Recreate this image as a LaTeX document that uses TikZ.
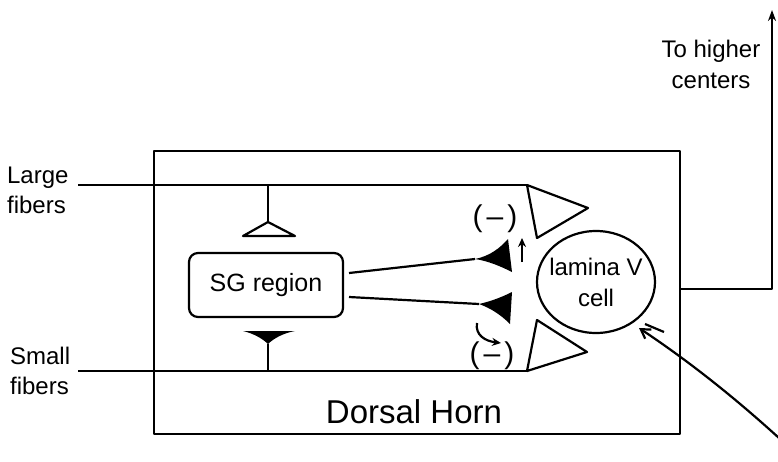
\documentclass[tikz,border=0pt]{standalone}
\usepackage{fontspec}
\setmainfont{Liberation Sans}
\usetikzlibrary{shapes.geometric,arrows.meta}
\begin{document}
\begin{tikzpicture}[x=1pt,y=-1pt, line width=2.2pt, line join=round,
  lbl/.style={font=\fontsize{24}{30}\selectfont, align=left, inner sep=0pt, anchor=west},
  term/.style={draw, fill=white},
  inh/.style={font=\fontsize{30}{30}\selectfont, inner sep=0pt},
  tip/.style={-{Stealth[length=9pt,width=8pt]}}]
\useasboundingbox (0,0) rectangle (778,461);

% main boxes
\node[draw, minimum width=526pt, minimum height=283pt, inner sep=0pt] (dh) at (417,292.5) {};
\node[font=\fontsize{33}{36}\selectfont, inner sep=0pt] (dhl) at (414,412) {Dorsal Horn};
\node[draw, rounded corners=9pt, minimum width=154pt, minimum height=64pt, inner sep=0pt,
      font=\fontsize{25}{28}\selectfont] (sg) at (266,285) {SG region};
\node[draw, ellipse, minimum width=118pt, minimum height=102pt, inner xsep=-9pt, inner ysep=-4pt, align=center,
      font=\fontsize{24}{31}\selectfont] (lam) at (596,282) {lamina V\\cell};

% labels
\node[lbl] (lf) at (6,190) {Large\\fibers};
\node[lbl] (sf) at (9,371) {Small\\fibers};
\node[font=\fontsize{24}{31}\selectfont, align=center, inner sep=0pt] (hc) at (711,64) {To higher\\centers};

% large fibers
\coordinate (lfs) at (78,185);
\coordinate (lft) at (527,185);
\draw (lfs) -- (lft);
\draw[term] (lft) -- (537,238) -- (588,208) -- cycle;
\coordinate (j1) at (268,185);
\coordinate (t1) at (268,222);
\draw (j1) -- (t1);
\draw[term] (t1) -- (295,236) -- (243,236) -- cycle;

% small fibers
\coordinate (sfs) at (78,371);
\coordinate (sft) at (527,371);
\draw (sfs) -- (sft);
\draw[term] (sft) -- (537,320) -- (587,352) -- cycle;
\coordinate (j2) at (268,371);
\coordinate (t2) at (268,344);
\draw (j2) -- (t2);
\fill (t2) .. controls (262,338) and (252,333) .. (243,331) -- (295,331) .. controls (284,333) and (274,338) .. (t2) -- cycle;

% SG outputs
\coordinate (s1) at (349,273);
\coordinate (e1) at (475,259);
\draw (s1) -- (e1);
\fill (e1) .. controls (490,256) and (500,248) .. (508,239) -- (512,272) .. controls (500,266) and (488,261) .. (e1) -- cycle;
\coordinate (s2) at (349,297);
\coordinate (e2) at (479,304);
\draw (s2) -- (e2);
\fill (e2) .. controls (492,301) and (502,297) .. (512,292) -- (510,324) .. controls (500,314) and (490,308) .. (e2) -- cycle;

% inhibition marks
\node[inh] (m1) at (495,219) {(\hspace{4pt}–\hspace{4pt})};
\node[inh] (m2) at (492,356) {(\hspace{4pt}–\hspace{4pt})};
\coordinate (a1s) at (522,262);
\coordinate (a1e) at (522,238);
\draw[tip] (a1s) -- (a1e);
\coordinate (a2s) at (477,323);
\coordinate (a2e) at (501,343);
\draw[tip] (a2s) .. controls (475,335) and (485,341) .. (a2e);

% output to higher centers
\coordinate (o1) at (dh.east |- 0,289);
\coordinate (o2) at (772,289);
\coordinate (o3) at (772,10);
\draw[-{Stealth[length=11pt,width=8pt]}] (o1) -- (o2) -- (o3);

% incoming input to lamina V cell
\coordinate (in0) at (779,438);
\coordinate (in1) at (639,328);
\draw[-{Straight Barb[length=9pt,width=11pt]}] (in0) .. controls (735,398) and (690,362) .. (in1);
\coordinate (k1) at (645,324);
\coordinate (k2) at (664,332);
\draw (k1) -- (k2);
\end{tikzpicture}
\end{document}
